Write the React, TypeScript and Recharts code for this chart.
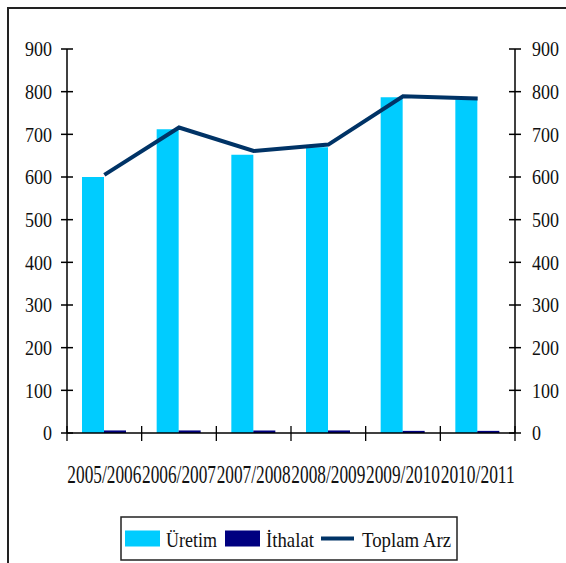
import { ComposedChart, Bar, Line, XAxis, YAxis, Legend } from 'recharts'

const categories = ['2005/2006', '2006/2007', '2007/2008', '2008/2009', '2009/2010', '2010/2011']
const uretim = [600, 712, 652, 670, 787, 782]
const ithalat = [6, 6, 6, 6, 5, 5]
const toplamArz = [605, 716, 661, 676, 789, 784]
const yTicks = [0, 100, 200, 300, 400, 500, 600, 700, 800, 900]
const legendOrder = ['Üretim', 'İthalat', 'Toplam Arz']

const FONT = '"Liberation Serif", "Times New Roman", serif'
const PLOT_W = 448

const data = categories.map((donem, i) => ({
  donem,
  uretim: uretim[i],
  ithalat: ithalat[i],
  toplam: toplamArz[i],
}))

/** Tick line crosses the axis; labels are squeezed like the source image. */
function LeftTick(props: any) {
  const { x, y, payload } = props
  const s = String(payload.value)
  return (
    <g>
      <rect x={x - 6} y={y - 0.75} width={12} height={1.5} fill="#000" />
      <text x={x - 15} y={y} dy="0.35em" textAnchor="end" fontSize={21} fontFamily={FONT}
        fill="#111" textLength={s.length * 9} lengthAdjust="spacingAndGlyphs">
        {s}
      </text>
    </g>
  )
}

function RightTick(props: any) {
  const { x, y, payload } = props
  const s = String(payload.value)
  return (
    <g>
      <rect x={x - 6} y={y - 0.75} width={12} height={1.5} fill="#000" />
      <text x={x + 17} y={y} dy="0.35em" textAnchor="start" fontSize={21} fontFamily={FONT}
        fill="#111" textLength={s.length * 9} lengthAdjust="spacingAndGlyphs">
        {s}
      </text>
    </g>
  )
}

function CategoryTick({ x, y, payload, index }: any) {
  const band = PLOT_W / categories.length
  const last = index === categories.length - 1
  return (
    <g>
      <line x1={x - band / 2} x2={x - band / 2} y1={y - 7} y2={y + 8} stroke="#000" strokeWidth={1.3} />
      {last && (
        <line x1={x + band / 2} x2={x + band / 2} y1={y - 7} y2={y + 8} stroke="#000" strokeWidth={1.3} />
      )}
      <text x={x} y={y + 50} textAnchor="middle" fontSize={25} fontFamily={FONT} fill="#111"
        textLength={74} lengthAdjust="spacingAndGlyphs">
        {payload.value}
      </text>
    </g>
  )
}

const legendText: Record<string, number> = { Üretim: 51, İthalat: 48, 'Toplam Arz': 89 }

function LegendBox({ payload }: any) {
  const items = [...(payload || [])].sort(
    (a: any, b: any) => legendOrder.indexOf(a.value) - legendOrder.indexOf(b.value)
  )
  const slots = [5, 105, 201]
  return (
    <svg width={340} height={46} style={{ display: 'block' }}>
      <rect x={1} y={1} width={336} height={43} fill="#fff" stroke="#222" strokeWidth={1.5} />
      {items.map((it: any, i: number) => {
        const x0 = slots[i]
        return (
          <g key={it.value}>
            {it.type === 'line' ? (
              <line x1={x0} x2={x0 + 33} y1={22.5} y2={22.5} stroke={it.color} strokeWidth={4} />
            ) : (
              <rect x={x0} y={14.5} width={35} height={16} fill={it.color} />
            )}
            <text x={x0 + 41} y={30.6} fontSize={21} fontFamily={FONT} fill="#111"
              textLength={legendText[it.value]} lengthAdjust="spacingAndGlyphs">
              {it.value}
            </text>
          </g>
        )
      })}
    </svg>
  )
}

export default function App() {
  return (
    <div style={{ position: 'absolute', left: 0, top: 0, width: 566, height: 563, background: '#fff', overflow: 'hidden' }}>
      <div style={{ position: 'absolute', left: 7, top: 7, width: 580, height: 580, borderTop: '2px solid #222', borderLeft: '2px solid #222' }} />
      <ComposedChart
        width={566}
        height={563}
        data={data}
        margin={{ top: 49, right: 0, bottom: 44, left: 0 }}
        barGap={0}
        style={{ position: 'absolute', left: 0, top: 0 }}
      >
        <XAxis
          dataKey="donem"
          height={40}
          interval={0}
          tickSize={0}
          tickMargin={0}
          tickLine={false}
          axisLine={{ stroke: '#000', strokeWidth: 1.5 }}
          tick={<CategoryTick />}
        />
        <YAxis
          yAxisId="left"
          width={67}
          domain={[0, 900]}
          ticks={yTicks}
          interval={0}
          tickSize={0}
          tickMargin={0}
          tickLine={false}
          axisLine={{ stroke: '#000', strokeWidth: 1.5 }}
          tick={<LeftTick />}
        />
        <YAxis
          yAxisId="right"
          orientation="right"
          width={51}
          domain={[0, 900]}
          ticks={yTicks}
          interval={0}
          tickSize={0}
          tickMargin={0}
          tickLine={false}
          axisLine={{ stroke: '#000', strokeWidth: 1.5 }}
          tick={<RightTick />}
        />
        <Bar yAxisId="left" dataKey="uretim" name="Üretim" fill="#00CCFF" barSize={22} isAnimationActive={false} />
        <Bar yAxisId="left" dataKey="ithalat" name="İthalat" fill="#000080" barSize={22} isAnimationActive={false} />
        <Line
          yAxisId="right"
          type="linear"
          dataKey="toplam"
          name="Toplam Arz"
          stroke="#003366"
          strokeWidth={4}
          dot={false}
          isAnimationActive={false}
        />
        <Legend
          verticalAlign="bottom"
          height={44}
          content={<LegendBox />}
          wrapperStyle={{ position: 'absolute', left: 120, top: 516, bottom: 'auto', width: 340, height: 46 }}
        />
      </ComposedChart>
    </div>
  )
}
